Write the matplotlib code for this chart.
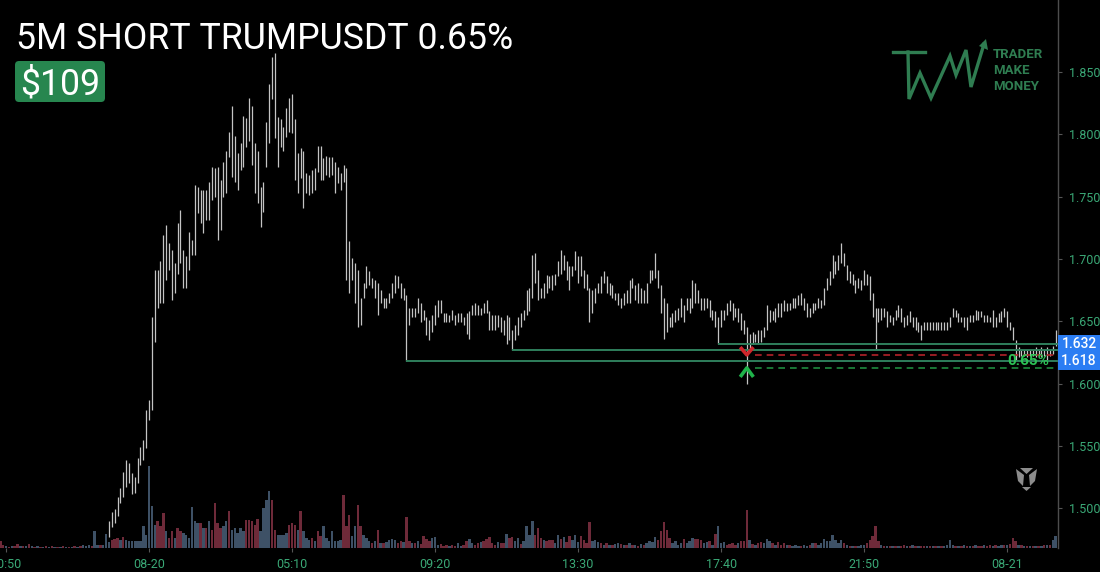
import matplotlib
matplotlib.use('Agg')
import matplotlib.pyplot as plt
from matplotlib.patches import FancyBboxPatch, Rectangle, Polygon
from matplotlib.lines import Line2D
from matplotlib.transforms import IdentityTransform

plt.rcParams['font.family'] = ['Roboto', 'DejaVu Sans']

# --- DATA (5m TRUMPUSDT) ---
# price bars start at bar index 36 (bar 0 = 20:50)
first_bar = 36
highs = [
    1.490, 1.497, 1.499, 1.509, 1.516, 1.529, 1.539, 1.536, 1.528, 1.525,
    1.540, 1.549, 1.555, 1.579, 1.587, 1.653, 1.691, 1.691, 1.698, 1.719,
    1.727, 1.713, 1.707, 1.697, 1.729, 1.739, 1.707, 1.702, 1.722, 1.715,
    1.759, 1.758, 1.755, 1.755, 1.755, 1.762, 1.774, 1.773, 1.774, 1.763,
    1.778, 1.787, 1.802, 1.823, 1.799, 1.785, 1.793, 1.815, 1.813, 1.829,
    1.823, 1.793, 1.787, 1.758, 1.762, 1.810, 1.840, 1.862, 1.865, 1.814,
    1.812, 1.806, 1.821, 1.829, 1.832, 1.812, 1.785, 1.789, 1.787, 1.769,
    1.767, 1.771, 1.773, 1.791, 1.791, 1.781, 1.783, 1.782, 1.782, 1.778,
    1.774, 1.769, 1.775, 1.773, 1.714, 1.701, 1.697, 1.691, 1.669, 1.681,
    1.694, 1.690, 1.685, 1.683, 1.681, 1.675, 1.669, 1.669, 1.673, 1.681,
    1.687, 1.686, 1.681, 1.677, 1.671, 1.661, 1.661, 1.661, 1.669, 1.665,
    1.659, 1.653, 1.651, 1.655, 1.663, 1.667, 1.667, 1.657, 1.657, 1.655,
    1.659, 1.655, 1.657, 1.657, 1.653, 1.657, 1.658, 1.663, 1.665, 1.663,
    1.661, 1.665, 1.667, 1.658, 1.655, 1.655, 1.655, 1.653, 1.651, 1.655,
    1.653, 1.643, 1.647, 1.653, 1.657, 1.659, 1.675, 1.677, 1.703, 1.705,
    1.691, 1.677, 1.681, 1.687, 1.686, 1.687, 1.688, 1.698, 1.707, 1.703,
    1.698, 1.694, 1.694, 1.706, 1.702, 1.702, 1.691, 1.688, 1.677, 1.675,
    1.677, 1.681, 1.686, 1.690, 1.686, 1.681, 1.679, 1.673, 1.673, 1.669,
    1.673, 1.675, 1.683, 1.685, 1.679, 1.681, 1.677, 1.675, 1.681, 1.691,
    1.691, 1.705, 1.691, 1.679, 1.669, 1.665, 1.653, 1.657, 1.659, 1.661,
    1.669, 1.663, 1.669, 1.669, 1.683, 1.681, 1.675, 1.669, 1.669, 1.669,
    1.667, 1.659, 1.658, 1.653, 1.659, 1.659, 1.665, 1.667, 1.665, 1.661,
    1.661, 1.657, 1.651, 1.645, 1.640, 1.641, 1.640, 1.643, 1.643, 1.645,
    1.663, 1.659, 1.658, 1.661, 1.665, 1.665, 1.667, 1.665, 1.665, 1.669,
    1.669, 1.671, 1.673, 1.669, 1.665, 1.661, 1.665, 1.665, 1.669, 1.667,
    1.677, 1.685, 1.690, 1.703, 1.698, 1.703, 1.713, 1.705, 1.695, 1.690,
    1.688, 1.683, 1.685, 1.683, 1.691, 1.688, 1.686, 1.673, 1.661, 1.661,
    1.661, 1.661, 1.658, 1.655, 1.653, 1.659, 1.663, 1.661, 1.653, 1.655,
    1.658, 1.653, 1.653, 1.649, 1.647, 1.649, 1.649, 1.649, 1.649, 1.649,
    1.649, 1.649, 1.649, 1.649, 1.653, 1.661, 1.659, 1.657, 1.653, 1.653,
    1.653, 1.655, 1.655, 1.659, 1.658, 1.658, 1.655, 1.655, 1.653, 1.659,
    1.653, 1.657, 1.658, 1.661, 1.658, 1.649, 1.645, 1.635, 1.629, 1.627,
    1.627, 1.627, 1.627, 1.627, 1.629, 1.627, 1.629, 1.627, 1.629, 1.627,
    1.630, 1.643,
]
lows = [
    1.477, 1.485, 1.488, 1.494, 1.504, 1.509, 1.517, 1.520, 1.511, 1.512,
    1.520, 1.535, 1.539, 1.548, 1.571, 1.579, 1.633, 1.661, 1.665, 1.665,
    1.683, 1.691, 1.667, 1.673, 1.688, 1.697, 1.677, 1.677, 1.691, 1.703,
    1.703, 1.737, 1.729, 1.721, 1.731, 1.731, 1.747, 1.750, 1.715, 1.723,
    1.750, 1.753, 1.782, 1.766, 1.762, 1.755, 1.771, 1.774, 1.790, 1.795,
    1.775, 1.753, 1.745, 1.726, 1.738, 1.774, 1.793, 1.828, 1.797, 1.774,
    1.790, 1.787, 1.798, 1.802, 1.801, 1.763, 1.753, 1.765, 1.741, 1.753,
    1.751, 1.753, 1.755, 1.770, 1.763, 1.763, 1.767, 1.766, 1.767, 1.753,
    1.761, 1.755, 1.762, 1.683, 1.673, 1.683, 1.665, 1.645, 1.647, 1.669,
    1.677, 1.679, 1.677, 1.669, 1.655, 1.665, 1.661, 1.661, 1.665, 1.669,
    1.673, 1.677, 1.669, 1.667, 1.618, 1.647, 1.653, 1.653, 1.657, 1.649,
    1.651, 1.639, 1.635, 1.641, 1.647, 1.653, 1.657, 1.649, 1.649, 1.649,
    1.651, 1.647, 1.649, 1.649, 1.647, 1.640, 1.636, 1.655, 1.655, 1.655,
    1.655, 1.657, 1.657, 1.643, 1.643, 1.643, 1.645, 1.641, 1.639, 1.632,
    1.635, 1.627, 1.635, 1.639, 1.645, 1.651, 1.655, 1.658, 1.669, 1.681,
    1.667, 1.669, 1.669, 1.673, 1.677, 1.675, 1.679, 1.686, 1.688, 1.691,
    1.683, 1.675, 1.686, 1.691, 1.681, 1.686, 1.677, 1.675, 1.649, 1.657,
    1.665, 1.673, 1.673, 1.681, 1.673, 1.671, 1.669, 1.667, 1.663, 1.661,
    1.663, 1.665, 1.665, 1.677, 1.667, 1.665, 1.665, 1.665, 1.665, 1.681,
    1.683, 1.685, 1.677, 1.657, 1.636, 1.641, 1.645, 1.645, 1.649, 1.651,
    1.653, 1.649, 1.659, 1.657, 1.661, 1.665, 1.665, 1.659, 1.659, 1.661,
    1.653, 1.651, 1.645, 1.632, 1.645, 1.651, 1.655, 1.658, 1.651, 1.653,
    1.649, 1.643, 1.640, 1.600, 1.627, 1.632, 1.633, 1.632, 1.633, 1.637,
    1.643, 1.649, 1.651, 1.649, 1.653, 1.653, 1.658, 1.658, 1.659, 1.661,
    1.661, 1.663, 1.663, 1.659, 1.653, 1.653, 1.657, 1.659, 1.661, 1.661,
    1.663, 1.675, 1.679, 1.685, 1.688, 1.691, 1.697, 1.694, 1.683, 1.681,
    1.679, 1.673, 1.677, 1.675, 1.679, 1.679, 1.667, 1.653, 1.627, 1.649,
    1.651, 1.653, 1.645, 1.649, 1.647, 1.651, 1.653, 1.649, 1.645, 1.647,
    1.649, 1.645, 1.643, 1.641, 1.635, 1.643, 1.643, 1.643, 1.643, 1.643,
    1.643, 1.643, 1.643, 1.643, 1.645, 1.653, 1.653, 1.649, 1.649, 1.645,
    1.643, 1.649, 1.649, 1.651, 1.651, 1.653, 1.649, 1.649, 1.649, 1.645,
    1.645, 1.649, 1.649, 1.653, 1.645, 1.643, 1.635, 1.618, 1.621, 1.622,
    1.622, 1.621, 1.622, 1.622, 1.621, 1.622, 1.621, 1.622, 1.619, 1.622,
    1.624, 1.630,
]

# volume from bar -2 (in thousands)
vol_first_bar = -2
volume = [
    22, 10, 5, 4, 6, 5, 13, 6, 5, 6,
    12, 5, 4, 5, 4, 4, 5, 4, 5, 4,
    3, 4, 5, 4, 3, 4, 5, 4, 5, 10,
    6, 8, 6, 50, 10, 8, 8, 43, 17, 25,
    27, 30, 25, 33, 25, 20, 20, 20, 20, 20,
    65, 40, 247, 125, 70, 80, 65, 105, 50, 30,
    50, 30, 60, 50, 45, 40, 30, 122, 80, 75,
    75, 60, 60, 80, 55, 135, 75, 60, 65, 80,
    110, 55, 60, 45, 60, 50, 85, 85, 80, 70,
    87, 50, 120, 145, 170, 145, 55, 40, 40, 40,
    45, 70, 75, 70, 55, 110, 50, 30, 25, 30,
    20, 50, 35, 65, 30, 20, 50, 20, 20, 25,
    160, 65, 100, 35, 65, 130, 65, 40, 30, 20,
    15, 20, 55, 15, 15, 17, 25, 27, 25, 15,
    20, 17, 93, 20, 15, 15, 20, 13, 35, 27,
    20, 30, 33, 10, 13, 7, 10, 7, 10, 7,
    15, 7, 10, 20, 27, 15, 10, 15, 17, 20,
    27, 33, 15, 10, 17, 15, 15, 43, 30, 33,
    20, 30, 13, 20, 65, 40, 82, 40, 60, 30,
    25, 20, 25, 25, 15, 40, 27, 33, 17, 37,
    25, 40, 17, 35, 25, 15, 77, 20, 23, 17,
    15, 10, 15, 10, 10, 13, 15, 13, 10, 10,
    15, 10, 10, 7, 13, 10, 15, 20, 17, 33,
    25, 50, 77, 55, 30, 15, 20, 10, 15, 27,
    15, 20, 30, 27, 27, 25, 15, 17, 20, 10,
    43, 65, 15, 17, 10, 13, 15, 10, 15, 20,
    20, 113, 25, 13, 10, 15, 17, 15, 27, 20,
    15, 10, 17, 10, 15, 10, 10, 7, 10, 7,
    7, 10, 7, 10, 15, 15, 10, 15, 27, 20,
    20, 40, 25, 15, 25, 15, 10, 7, 7, 7,
    7, 10, 10, 15, 25, 35, 65, 20, 10, 7,
    7, 7, 7, 7, 7, 7, 10, 7, 7, 10,
    7, 7, 7, 7, 7, 7, 7, 7, 7, 7,
    7, 10, 25, 10, 7, 7, 7, 10, 7, 7,
    7, 10, 7, 7, 10, 7, 10, 7, 10, 7,
    10, 10, 10, 13, 30, 20, 10, 10, 7, 7,
    7, 7, 7, 7, 7, 10, 10, 10, 25, 37,
]
# b = up bar (blue-grey volume), r = down bar (red volume)
vol_color = (
    "rrbrbrrbrb" "rbrbrbrbrb" "rbrbrbrbrb" "bbrbbrbbbr" "rrbrbbbbbb"
    "bbbbbrrrbr" "rbrrbbbbbb" "rbrbrrrrbb" "rbbbbbrrrr" "rbbbbrrbbb"
    "brrrbrbbbr" "brrbbbbbbb" "rrrbbrrbbb" "rbrbrbbbbr" "rbrrbrbrrr"
    "rbbbrrrbrr" "bbrrbbrrbr" "rrrrbrrbrr" "bbrbbbbrrr" "brrrbbrbrr"
    "bbbrrrrbbb" "rbrbrbbrbr" "brbrbrbbbb" "rrrrrbbbbr" "bbbrrrbbrb"
    "rbbbrrrrbr" "rrbrbrrbbb" "rbrrrbrbbb" "rbbrbrbbbb" "bbbbbrbrbr"
    "bbbrrrrrbr" "brbrbrrbrb" "rbrrbrbrbr" "bbbbrbrbrb" "rbrrbrrbrb"
    "brbrrrbrbr" "brbrbrbrbb"
)

# key levels (unmitigated lows) and the bar where each starts
levels = [1.618, 1.627, 1.632]
level_start_bar = [140, 177, 249]
entry_bar = 259
entry_price = 1.623
target_price = 1.6125
last_price_tags = [1.632, 1.618]

tick_bars = [0, 50, 100, 150, 200, 250, 300, 350]
tick_labels = ['20:50', '08-20', '05:10', '09:20', '13:30', '17:40', '21:50', '08-21']
price_ticks = [1.500, 1.550, 1.600, 1.650, 1.700, 1.750, 1.800, 1.850]

# --- STYLE ---
BG = '#000000'
BAR_C = '#c4c4c4'
AX_TXT = '#3aa876'
LVL_C = '#2f7f5c'
UP_VOL = '#3e5166'
DN_VOL = '#6e2a39'
LOGO_C = '#2f7d51'
W, H = 1100, 572

fig = plt.figure(figsize=(W / 100, H / 100), dpi=100, facecolor=BG)
rect = [0, 24 / H, 1058 / W, 548 / H]
axv = fig.add_axes(rect)
ax = fig.add_axes(rect, sharex=axv)

# volume
vk = [vol_first_bar + i for i in range(len(volume))]
vcol = [UP_VOL if c == 'b' else DN_VOL for c in vol_color]
axv.bar(vk, volume, width=0.85, color=vcol, linewidth=0)
axv.set_ylim(0, 1644)
axv.set_facecolor(BG)
axv.axis('off')

# price bars
pk = [first_bar + i for i in range(len(highs))]
ax.vlines(pk, lows, highs, colors=BAR_C, linewidth=0.9)
ax.set_xlim(-2.1, 367.8)
ax.set_ylim(1.468, 1.9078)
ax.patch.set_alpha(0)

for lv, sb in zip(levels, level_start_bar):
    ax.hlines(lv, sb, 367.8, colors=LVL_C, linewidth=1.4)

ax.hlines(entry_price, entry_bar + 3, 367, colors='#b3222a', linewidth=1.2,
          linestyles=(0, (4, 3)))
ax.hlines(target_price, entry_bar + 3, 367, colors='#1f8c3f', linewidth=1.2,
          linestyles=(0, (4, 3)))
ax.plot([entry_bar - 2.3, entry_bar, entry_bar + 2.3],
        [entry_price + 0.0062, entry_price, entry_price + 0.0062],
        color='#d0262c', linewidth=2.6, solid_capstyle='butt')
ax.plot([entry_bar - 2.3, entry_bar, entry_bar + 2.3],
        [target_price - 0.0072, target_price, target_price - 0.0072],
        color='#1fb34a', linewidth=2.6, solid_capstyle='butt')
ax.text(357.5, 1.618, '0.65%', color='#2cc255', fontsize=11,
        fontweight='bold', ha='center', va='center', zorder=6)

# axes
ax.yaxis.tick_right()
ax.set_yticks(price_ticks)
ax.set_yticklabels([f'{p:.3f}' for p in price_ticks])
ax.set_xticks(tick_bars)
ax.set_xticklabels(tick_labels)
ax.tick_params(axis='y', colors='#555555', labelcolor=AX_TXT, length=3,
               pad=5, labelsize=9)
ax.tick_params(axis='x', colors='#555555', labelcolor=AX_TXT, length=3,
               pad=4, labelsize=9)
for s in ['top', 'left', 'bottom']:
    ax.spines[s].set_visible(False)
ax.spines['right'].set_color('#4d4d4d')
ax.spines['right'].set_linewidth(1)

# price tags on the right scale
ident = IdentityTransform()
fig.canvas.draw()
for p in last_price_tags:
    _, yd = ax.transData.transform((0, p))
    fig.add_artist(Rectangle((1058, yd - 9), 42, 18, transform=ident,
                             facecolor='#2b7df3', edgecolor='none'))
    fig.text(1079, yd, f'{p:.3f}', transform=ident, color='white',
             fontsize=10, fontweight='medium', ha='center', va='center')

# title and pnl box
fig.text(16, H - 49, '5M SHORT TRUMPUSDT 0.65%', transform=ident,
         color='white', fontsize=25.7, va='baseline')
fig.add_artist(FancyBboxPatch((15, H - 102), 90, 41,
                              boxstyle='round,pad=0,rounding_size=4',
                              transform=ident, facecolor='#27864f',
                              edgecolor='none'))
fig.text(60, H - 94, '$109', transform=ident, color='white', fontsize=25.7,
         ha='center', va='baseline')

# logo
zig = [(893, 52), (925, 52)]
stem = [(908, 52), (909, 99), (920, 73), (931, 98), (950, 56), (956, 75),
        (966, 50), (971, 87), (984, 44)]
for pts in (zig, stem):
    xs = [p[0] for p in pts]
    ys = [H - p[1] for p in pts]
    fig.add_artist(Line2D(xs, ys, transform=ident, color=LOGO_C,
                          linewidth=2.4, solid_joinstyle='miter'))
fig.add_artist(Polygon([(986, H - 39), (979, H - 46), (988, H - 50)],
                       transform=ident, facecolor=LOGO_C, edgecolor='none'))
for txt, yb in zip(['TRADER', 'MAKE', 'MONEY'], [58.5, 74, 89.5]):
    fig.text(993, H - yb, txt, transform=ident, color=LOGO_C, fontsize=9.5,
             fontweight='bold', va='baseline')

# small watermark icon
wm = [
    [(1016, 469), (1024, 475), (1023, 486), (1018, 481)],
    [(1037, 469), (1029, 475), (1030, 486), (1035, 481)],
    [(1020, 468), (1033, 468), (1026.5, 474)],
    [(1022, 487), (1031, 487), (1026.5, 491)],
]
for poly in wm:
    fig.add_artist(Polygon([(x, H - y) for x, y in poly], transform=ident,
                           facecolor='#8c8c8c', edgecolor='none'))

fig.savefig('out.png', dpi=100, facecolor=BG)
